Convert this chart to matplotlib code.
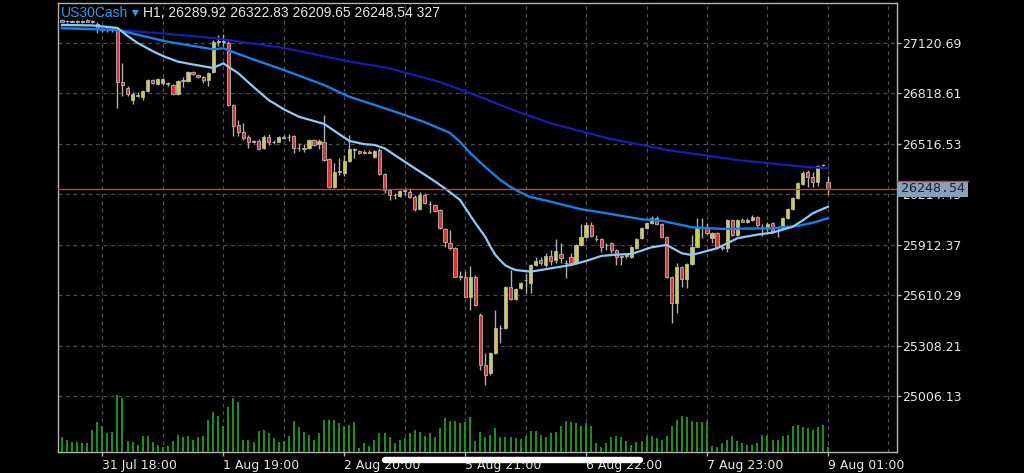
import numpy as np
import matplotlib
matplotlib.use("Agg")
import matplotlib.pyplot as plt
from matplotlib.lines import Line2D
from matplotlib.patches import Rectangle
from matplotlib.ticker import FixedLocator
from matplotlib.transforms import blended_transform_factory

# ---------------------------------------------------------------- data
symbol = "US30Cash"
timeframe = "H1"

# hourly OHLC, oldest first; the last bar is the one still forming
opens = [
    27258, 27252, 27249, 27255, 27249, 27258, 27249, 27234, 27204, 27198,
    27198, 27204, 26890, 26851, 26779, 26809, 26797, 26833, 26899, 26875,
    26881, 26881, 26869, 26815, 26893, 26893, 26947, 26932, 26917, 26899,
    26947, 27126, 27132, 27120, 26749, 26629, 26590, 26560, 26530, 26533,
    26491, 26557, 26527, 26530, 26554, 26557, 26563, 26491, 26491, 26491,
    26542, 26515, 26530, 26423, 26258, 26348, 26342, 26414, 26480, 26473,
    26464, 26464, 26437, 26480, 26336, 26240, 26210, 26204, 26237, 26231,
    26201, 26126, 26210, 26156, 26150, 26120, 26006, 25925, 25892, 25722,
    25722, 25602, 25722, 25491, 25192, 25144, 25264, 25413, 25413, 25659,
    25587, 25653, 25701, 25686, 25791, 25821, 25791, 25845, 25821, 25857,
    25803, 25839, 25803, 25910, 25958, 26030, 25946, 25946, 25910, 25922,
    25878, 25845, 25851, 25839, 25892, 25952, 26012, 26042, 26072, 26036,
    25958, 25719, 25563, 25776, 25707, 25797, 25898, 26012, 26018, 25952,
    25982, 25901, 25892, 26060, 25970, 26063, 26048, 26060, 26081, 26018,
    26018, 26042, 26000, 26012, 26072, 26126, 26192, 26276, 26345, 26321,
    26291, 26387, 26289.92,
]
highs = [
    27264, 27261, 27261, 27261, 27258, 27264, 27258, 27246, 27216, 27213,
    27213, 27216, 27001, 26863, 26827, 26827, 26839, 26905, 26905, 26911,
    26911, 26887, 26875, 26899, 26917, 26953, 26953, 26935, 26923, 26947,
    27138, 27168, 27174, 27132, 26755, 26659, 26641, 26569, 26539, 26545,
    26569, 26575, 26539, 26563, 26569, 26575, 26569, 26521, 26515, 26545,
    26545, 26545, 26689, 26432, 26402, 26432, 26450, 26569, 26491, 26480,
    26480, 26480, 26480, 26491, 26342, 26246, 26222, 26240, 26252, 26252,
    26210, 26231, 26222, 26174, 26156, 26126, 26012, 26000, 25898, 25752,
    25752, 25782, 25731, 25503, 25264, 25270, 25521, 25431, 25665, 25761,
    25653, 25689, 25743, 25797, 25839, 25839, 25863, 25881, 25944, 25922,
    25821, 25863, 25916, 26036, 26048, 26048, 25970, 25952, 25922, 25928,
    25887, 25851, 25863, 25904, 25952, 26018, 26048, 26084, 26084, 26042,
    25964, 25725, 25803, 25784, 25803, 25970, 26072, 26072, 26042, 25988,
    25988, 25910, 26066, 26066, 26066, 26072, 26072, 26090, 26084, 26036,
    26048, 26048, 26012, 26078, 26132, 26198, 26288, 26351, 26357, 26348,
    26390, 26394, 26322.83,
]
lows = [
    27246, 27243, 27246, 27243, 27243, 27246, 27240, 27180, 27186, 27189,
    27186, 26731, 26803, 26803, 26755, 26797, 26779, 26827, 26875, 26869,
    26869, 26863, 26809, 26809, 26857, 26887, 26929, 26911, 26881, 26863,
    26941, 27102, 27102, 26743, 26563, 26563, 26539, 26491, 26521, 26480,
    26485, 26509, 26515, 26527, 26545, 26533, 26461, 26473, 26467, 26485,
    26503, 26485, 26414, 26252, 26252, 26330, 26324, 26408, 26432, 26455,
    26455, 26461, 26432, 26330, 26222, 26180, 26186, 26198, 26210, 26192,
    26114, 26120, 26156, 26102, 26114, 26006, 25899, 25881, 25719, 25701,
    25599, 25521, 25545, 25162, 25072, 25132, 25258, 25323, 25407, 25581,
    25581, 25647, 25623, 25623, 25785, 25791, 25779, 25791, 25803, 25803,
    25713, 25791, 25797, 25904, 25952, 25958, 25934, 25868, 25881, 25863,
    25791, 25791, 25833, 25833, 25886, 25946, 26006, 26036, 26030, 25952,
    25713, 25443, 25503, 25659, 25653, 25791, 25896, 25952, 25970, 25922,
    25892, 25881, 25868, 25964, 25964, 26048, 26042, 26054, 26018, 25964,
    25988, 25982, 25958, 26006, 26066, 26120, 26186, 26270, 26261, 26261,
    26264, 26381, 26209.65,
]
closes = [
    27249, 27253, 27255, 27249, 27252, 27249, 27252, 27204, 27198, 27201,
    27204, 26887, 26869, 26815, 26815, 26806, 26833, 26899, 26881, 26908,
    26905, 26875, 26815, 26893, 26899, 26947, 26935, 26917, 26899, 26941,
    27126, 27132, 27126, 26749, 26623, 26590, 26551, 26527, 26531, 26485,
    26557, 26527, 26530, 26557, 26557, 26560, 26491, 26494, 26488, 26542,
    26509, 26533, 26420, 26258, 26348, 26351, 26414, 26488, 26483, 26461,
    26465, 26470, 26473, 26336, 26240, 26210, 26211, 26237, 26238, 26198,
    26126, 26210, 26162, 26157, 26117, 26012, 25931, 25892, 25722, 25723,
    25602, 25719, 25551, 25192, 25132, 25264, 25416, 25414, 25659, 25587,
    25647, 25683, 25702, 25791, 25815, 25803, 25845, 25812, 25875, 25833,
    25804, 25803, 25910, 25958, 26030, 25964, 25947, 25898, 25911, 25881,
    25839, 25836, 25845, 25898, 25946, 26012, 26042, 26072, 26036, 25958,
    25719, 25563, 25776, 25707, 25797, 25898, 26012, 26015, 25982, 25982,
    25901, 25892, 26060, 25970, 26063, 26051, 26063, 26081, 26030, 26019,
    26036, 25994, 26001, 26072, 26126, 26192, 26282, 26342, 26321, 26291,
    26381, 26390, 26248.54,
]
# tick volume per bar
volumes = [
    930, 763, 620, 620, 558, 558, 1364, 1860, 1612, 1178,
    1240, 3534, 3348, 682, 620, 434, 992, 992, 620, 434,
    310, 372, 682, 1054, 930, 992, 744, 930, 992, 1984,
    2480, 2232, 1612, 2790, 3348, 3100, 744, 744, 620, 1302,
    1364, 1178, 868, 620, 682, 992, 1922, 1550, 1240, 1054,
    744, 1178, 1984, 1984, 1984, 1798, 1612, 1674, 1860, 248,
    558, 372, 744, 1178, 1178, 930, 558, 744, 868, 1178,
    1364, 1240, 992, 1178, 930, 1488, 2108, 1922, 1922, 1798,
    1860, 2170, 682, 1240, 930, 1054, 1488, 930, 930, 930,
    870, 806, 992, 1302, 1302, 1054, 930, 1178, 1240, 1612,
    1922, 1860, 1798, 1612, 1798, 1612, 558, 310, 558, 930,
    992, 930, 682, 434, 620, 682, 992, 992, 868, 744,
    992, 1612, 1984, 2232, 2170, 1922, 1860, 1860, 1922, 372,
    310, 558, 744, 992, 682, 558, 434, 434, 558, 1054,
    992, 744, 744, 992, 1054, 1612, 1674, 1550, 1488, 1364,
    1550, 1674, 327,
]

# moving averages sampled at bar positions
fast_ma_bars = [0, 6, 11, 13, 15, 18, 20, 23, 26, 30, 32, 35, 38, 41, 44, 47,
                52, 55, 57, 60, 62, 64, 66, 70, 73, 76, 79, 82, 84, 85, 86, 87,
                88, 89, 90, 93, 97, 101, 104, 107, 110, 113, 117, 120, 123,
                125, 130, 134, 138, 141, 145, 147, 149, 152]
fast_ma = [27229, 27226, 27211, 27163, 27121, 27072, 27043, 27009, 26992, 26971,
           26999, 26939, 26857, 26779, 26724, 26679, 26636, 26575, 26534, 26515,
           26510, 26490, 26450, 26370, 26312, 26250, 26180, 26043, 25959, 25901,
           25851, 25818, 25788, 25773, 25761, 25751, 25771, 25791, 25815, 25845,
           25853, 25857, 25897, 25911, 25861, 25851, 25891, 25951, 25973, 25985,
           26020, 26058, 26101, 26140]

mid_ma_bars = [0, 11, 16, 21, 26, 30, 32, 38, 44, 52, 57, 62, 67, 72, 77, 79,
               81, 84, 87, 89, 91, 93, 97, 103, 108, 115, 119, 125, 131, 141,
               146, 149, 152]
mid_ma = [27209, 27199, 27163, 27128, 27103, 27083, 27089, 27022, 26959, 26869,
          26799, 26750, 26700, 26646, 26582, 26528, 26462, 26378, 26300, 26258,
          26225, 26198, 26170, 26125, 26101, 26065, 26056, 26017, 26007, 26011,
          26025, 26044, 26071]

slow_ma_bars = [0, 11, 20, 30, 44, 57, 65, 75, 83, 90, 97, 108, 120, 134, 147,
                152]
slow_ma = [27214, 27199, 27178, 27151, 27091, 27010, 26969, 26887, 26797, 26714,
           26640, 26552, 26480, 26420, 26380, 26370]

time_label_bars = [8, 32, 56, 80, 104, 128, 152]
time_labels = ["31 Jul 18:00", "1 Aug 19:00", "2 Aug 20:00", "5 Aug 21:00",
               "6 Aug 22:00", "7 Aug 23:00", "9 Aug 01:00"]
time_grid_bars = [20, 44, 68, 92, 116, 140, 164]
price_ticks = [25006.13, 25308.21, 25610.29, 25912.37, 26214.45, 26516.53,
               26818.61, 27120.69]

# ---------------------------------------------------------------- styling
BG = "#000000"
GRID = "#4e4e4e"
FRAME = "#b4b4b4"
TEXT = "#e6e6e6"
BULL = "#cccc4a"
BEAR = "#d03838"
WICK = "#b0b0b0"
OUTLINE = "#b4b4b4"
VOL = "#1f9e1f"
FAST_C = "#8ec9f7"
MID_C = "#1a7fe3"
SLOW_C = "#1c1cb0"
BID_C = "#c8403f"
HEAD_FONT = ["Liberation Sans", "DejaVu Sans"]

W, H = 1024, 473
fig = plt.figure(figsize=(W / 100, H / 100), dpi=100, facecolor=BG)
left, right, top, bottom = 58, 897, 3, 452
rect = [left / W, 1 - bottom / H, (right - left) / W, (bottom - top) / H]

ax = fig.add_axes(rect)
ax.set_facecolor(BG)
ax.set_xlim(-0.8, 165.7)
ax.set_ylim(24670.8, 27360.3)

o = np.array(opens, float)
h = np.array(highs, float)
lo = np.array(lows, float)
c = np.array(closes, float)
x = np.arange(len(o))

# grid
ax.xaxis.set_major_locator(FixedLocator(time_label_bars))
ax.xaxis.set_minor_locator(FixedLocator(time_grid_bars))
ax.set_xticklabels(time_labels)
ax.yaxis.set_major_locator(FixedLocator(price_ticks))
ax.set_yticklabels([f"{p:.2f}" for p in price_ticks])
ax.yaxis.tick_right()
ax.grid(True, which="both", axis="x", color=GRID, lw=0.9, ls=(0, (3, 3)))
ax.grid(True, which="major", axis="y", color=GRID, lw=0.9, ls=(0, (3, 3)))
ax.set_axisbelow(True)

ax.tick_params(axis="x", which="major", length=3, width=1, color=FRAME,
               labelcolor=TEXT, labelsize=9, pad=2)
ax.tick_params(axis="x", which="minor", length=0)
ax.tick_params(axis="y", length=3, width=1, color=FRAME, labelcolor=TEXT,
               labelsize=9, pad=1)
for lbl in ax.get_xticklabels():
    lbl.set_horizontalalignment("left")
for sp in ax.spines.values():
    sp.set_color(FRAME)
    sp.set_linewidth(1.0)

# candles
ax.vlines(x, lo, h, color=WICK, lw=1.0, zorder=3)
body_low = np.minimum(o, c)
body_h = np.abs(c - o)
colors = np.where(c > o, BULL, BEAR)
ax.bar(x, body_h, bottom=body_low, width=0.64, color=colors,
       edgecolor=OUTLINE, linewidth=0.6, zorder=4)

# moving averages
ax.plot(slow_ma_bars, slow_ma, color=SLOW_C, lw=1.6, zorder=5,
        solid_joinstyle="round")
ax.plot(mid_ma_bars, mid_ma, color=MID_C, lw=1.7, zorder=5,
        solid_joinstyle="round")
ax.plot(fast_ma_bars, fast_ma, color=FAST_C, lw=1.6, zorder=5,
        solid_joinstyle="round")

# bid line and price tag
bid = closes[-1]
ax.axhline(bid, color=BID_C, lw=1.0, zorder=6)
tr = blended_transform_factory(ax.transAxes, ax.transData)
ppx = (27360.3 - 24670.8) / (bottom - top)
tag_w = 71 / (right - left)
ax.add_patch(Rectangle((1.0, bid - 8.1 * ppx), tag_w, 16.2 * ppx,
                       transform=tr, facecolor="#8c9fb7", edgecolor="none",
                       clip_on=False, zorder=10))
ax.add_line(Line2D([1.0, 1.0 + tag_w], [bid + 8.1 * ppx] * 2, transform=tr,
                   color=BID_C, lw=1.0, clip_on=False, zorder=11))
ax.text(1.0 + 4 / (right - left), bid, f"{bid:.2f}", transform=tr,
        ha="left", va="center", fontsize=9.5, family="DejaVu Sans Mono",
        color="#1c2533", zorder=12, clip_on=False)

# volume pane sharing the bottom of the chart
axv = fig.add_axes(rect, sharex=ax)
axv.set_ylim(0, 62 * (bottom - top))
axv.patch.set_visible(False)
axv.axis("off")
axv.vlines(np.arange(len(volumes)), 0, volumes, color=VOL, lw=1.3)

# header
hx, hy = 61 / W, 1 - 17.3 / H
t1 = fig.text(hx, hy, symbol, color="#2f9ce8", fontsize=10, va="baseline",
              family=HEAD_FONT)
t2 = ax.annotate(" \u25BE ", xy=(1, 0), xycoords=t1, va="bottom", ha="left",
                 color="#2f9ce8", fontsize=10, family=HEAD_FONT,
                 annotation_clip=False)
info = (f"{timeframe}, {opens[-1]:.2f} {highs[-1]:.2f} {lows[-1]:.2f} "
        f"{closes[-1]:.2f} {volumes[-1]}")
ax.annotate(info, xy=(1, 0), xycoords=t2, va="bottom", ha="left",
            color=TEXT, fontsize=10, family=HEAD_FONT, annotation_clip=False)

# device home indicator
fig.add_artist(Line2D([385 / W, 640 / W], [1 - 459.8 / H] * 2,
                      transform=fig.transFigure, color="white", lw=4.6,
                      solid_capstyle="round", zorder=20))

fig.savefig("out.png", dpi=100, facecolor=BG)
